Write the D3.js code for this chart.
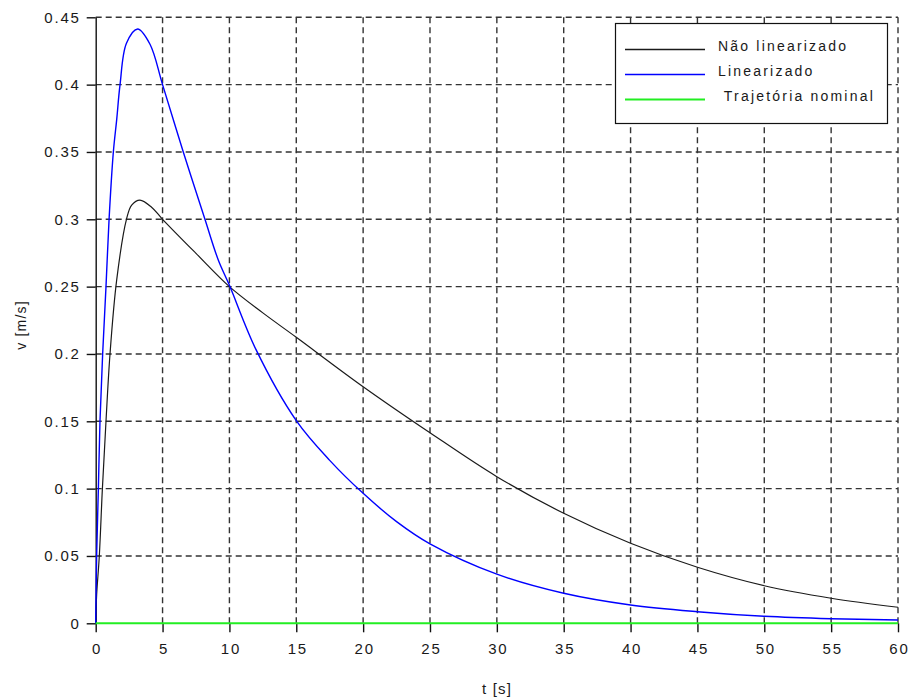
<!DOCTYPE html>
<html><head><meta charset="utf-8">
<script src="https://cdn.jsdelivr.net/npm/d3@7/dist/d3.min.js"></script>
<style>
html,body{margin:0;padding:0;background:#fff;}
svg{display:block;}
text{font-family:"Liberation Sans",Arial,sans-serif;fill:#1a1a1a;}
</style></head>
<body><svg id="c" width="912" height="698"></svg>
<script>
// ---- data ----
const xTicks = [0,5,10,15,20,25,30,35,40,45,50,55,60];
const xTickLabels = ["0","5","10","15","20","25","30","35","40","45","50","55","60"];
const yTicks = [0,0.05,0.1,0.15,0.2,0.25,0.3,0.35,0.4,0.45];
const yTickLabels = ["0","0.05","0.1","0.15","0.2","0.25","0.3","0.35","0.4","0.45"];
const seriesNames = ["Não linearizado","Linearizado"," Trajetória nominal"];
const seriesColors = ["#1a1a1a","#0000ff","#22ee22"];

const naoLinT = [0,0.07,0.27,0.5,0.77,1.07,1.57,2.3,2.69,3.31,4.18,5,7.5,10,12.5,15,20,25,30,35,40,45,50,55,60];
const naoLinV = [0,0.021,0.05,0.1,0.15,0.2,0.255,0.3,0.3106,0.3143,0.309,0.3,0.2747,0.25,0.2305,0.2124,0.1757,0.1415,0.1089,0.0817,0.0594,0.0416,0.0279,0.0186,0.0119];

const linT = [0,0.07,0.2,0.32,0.52,0.77,1.0,1.32,1.57,1.82,2.3,3.14,4.06,5,6.55,8.17,9.16,10,12,15,17.5,20,22.5,25,30,35,40,45,50,55,60];
const linV = [0,0.05,0.1,0.15,0.2,0.25,0.3,0.35,0.374,0.4,0.4307,0.4413,0.43,0.4,0.35,0.3,0.27,0.251,0.203,0.1505,0.121,0.0965,0.0755,0.059,0.0365,0.0223,0.0136,0.0086,0.0052,0.0034,0.0025];

const nomT = [0,60];
const nomV = [0,0];

// ---- layout ----
const svg = d3.select("#c");
const x = d3.scaleLinear().domain([0,60]).range([95.7,898]);
const y = d3.scaleLinear().domain([0,0.45]).range([623.3,17.3]);

// grid
const grid = svg.append("g").attr("stroke","#333").attr("stroke-width",1.4).attr("stroke-dasharray","6,4").attr("fill","none");
xTicks.filter(d=>d>0).forEach(t=>{
  grid.append("line").attr("x1",x(t)).attr("x2",x(t)).attr("y1",y(0.45)).attr("y2",y(0));
});
yTicks.filter(d=>d>0).forEach(v=>{
  grid.append("line").attr("x1",x(0)).attr("x2",x(60)).attr("y1",y(v)).attr("y2",y(v));
});

// axes
const fmtX = d => xTickLabels[xTicks.indexOf(d)];
const fmtY = d => yTickLabels[yTicks.indexOf(d)];
const ax = svg.append("g").attr("transform",`translate(0,${y(0)})`)
  .call(d3.axisBottom(x).tickValues(xTicks).tickFormat(fmtX).tickSize(9).tickSizeOuter(0).tickPadding(11));
const ay = svg.append("g").attr("transform",`translate(${x(0)},0)`)
  .call(d3.axisLeft(y).tickValues(yTicks).tickFormat(fmtY).tickSize(9).tickSizeOuter(0).tickPadding(6));
[ax,ay].forEach(a=>{
  a.selectAll("line").attr("stroke","#111").attr("stroke-width",1.4);
  a.selectAll("text").style("font-size","15px").style("letter-spacing","1.8px").attr("fill","#1a1a1a").style("font-family","Liberation Sans, Arial, sans-serif");
});
ax.select(".domain").remove();
ay.select(".domain").attr("stroke","#111").attr("stroke-width",1.4);
ax.selectAll("text").attr("dx","1px");

// curves
const line = d3.line().x(d=>x(d[0])).y(d=>y(d[1])).curve(d3.curveCatmullRom.alpha(0.5));
const series = [
  {t:naoLinT, v:naoLinV, c:seriesColors[0], w:1.2},
  {t:linT, v:linV, c:seriesColors[1], w:1.4},
  {t:nomT, v:nomV, c:seriesColors[2], w:2}
];
series.forEach(s=>{
  svg.append("path").datum(s.t.map((t,i)=>[t,s.v[i]]))
    .attr("d",line).attr("fill","none").attr("stroke",s.c).attr("stroke-width",s.w);
});

// axis titles
svg.append("text").attr("x",497).attr("y",694).attr("text-anchor","middle")
  .style("font-size","15px").style("letter-spacing","1.2px").text("t [s]");
svg.append("text").attr("transform","translate(26,325) rotate(-90)").attr("text-anchor","middle")
  .style("font-size","14px").style("letter-spacing","1.2px").text("v [m/s]");

// legend
const lg = svg.append("g");
lg.append("rect").attr("x",615.5).attr("y",23.5).attr("width",272).attr("height",100)
  .attr("fill","#fff").attr("stroke","#111").attr("stroke-width",1.2);
seriesNames.forEach((n,i)=>{
  const ly = 49.5 + i*25;
  lg.append("line").attr("x1",625).attr("x2",705).attr("y1",ly).attr("y2",ly)
    .attr("stroke",seriesColors[i]).attr("stroke-width",i===2?2:1.4);
  lg.append("text").attr("x",718).attr("y",ly+1).style("white-space","pre")
    .style("font-size","14px").style("letter-spacing","2.2px").text(n);
});
</script></body></html>
